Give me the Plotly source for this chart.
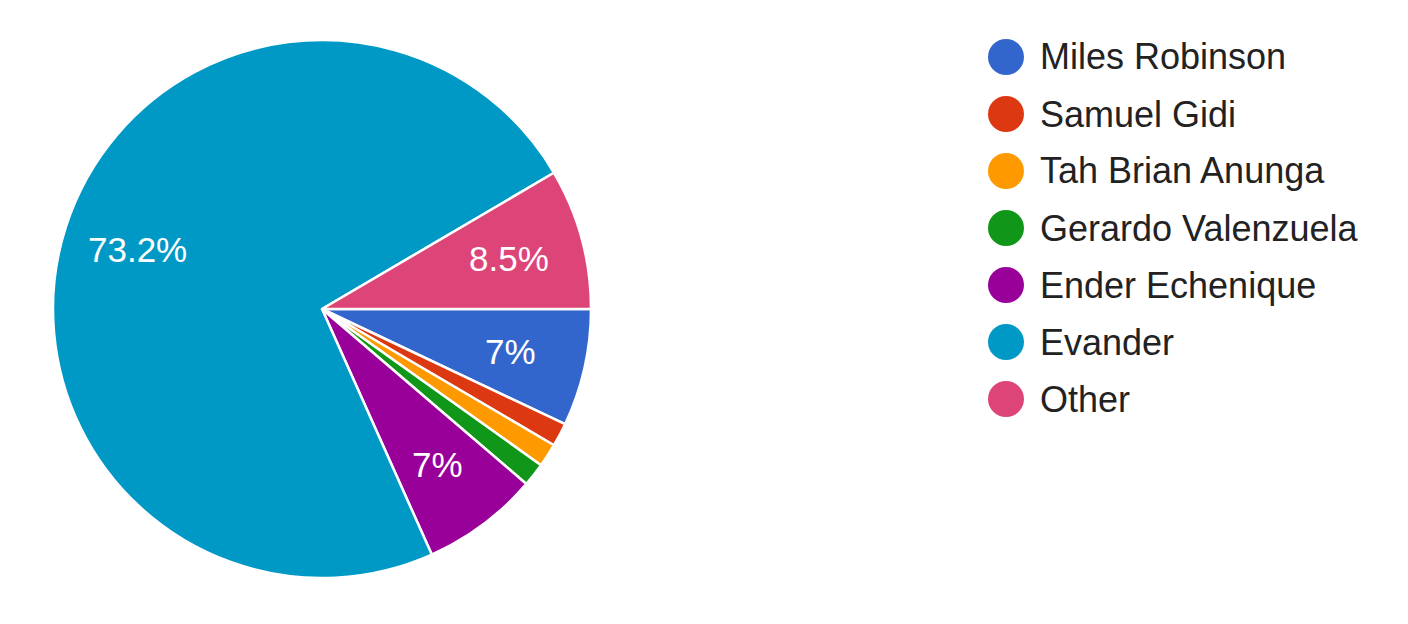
import math
import plotly.graph_objects as go

# responses per name
labels = ["Miles Robinson", "Samuel Gidi", "Tah Brian Anunga", "Gerardo Valenzuela",
          "Ender Echenique", "Evander", "Other"]
counts = [5, 1, 1, 1, 5, 52, 6]
colors = ["#3366cc", "#dc3912", "#ff9900", "#109618", "#990099", "#0099c6", "#dd4477"]

W, H = 1408, 624
total = sum(counts)
FONT = "Liberation Sans, Arial"

# pie geometry (px inside the figure)
cx, cy, R = 314, 301, 269


def pct_label(v):
    p = round(v / total * 100, 1)
    if p < 5:
        return ""
    s = f"{p:.1f}".rstrip("0").rstrip(".")
    return s + "%"


fig = go.Figure()
fig.add_trace(go.Pie(
    labels=labels,
    values=counts,
    textinfo="none",
    marker=dict(colors=colors, line=dict(color="white", width=2.5)),
    sort=False,
    direction="clockwise",
    rotation=90,
    showlegend=False,
    hoverinfo="label+value+percent",
    domain=dict(x=[(cx - R) / W, (cx + R) / W], y=[1 - (cy + R) / H, 1 - (cy - R) / H]),
))

annots = []
# percentage labels placed like google charts: mid-angle, ~0.72 of the radius
cum = 0
for v in counts:
    mid = (cum + v / 2) / total * 2 * math.pi  # clockwise from 3 o'clock
    cum += v
    txt = pct_label(v)
    if not txt:
        continue
    px = cx + 0.72 * R * math.cos(mid)
    py = cy + 0.72 * R * math.sin(mid)
    annots.append(dict(text=txt, xref="paper", yref="paper", x=px / W, y=1 - py / H,
                       xanchor="center", yanchor="middle", showarrow=False,
                       font=dict(size=35, color="white", family=FONT)))

# legend drawn by hand so the markers can be big circles like the original
shapes = []
for i, (lab, col) in enumerate(zip(labels, colors)):
    ly = 49 + i * 57
    shapes.append(dict(type="circle", xref="paper", yref="paper",
                       x0=980 / W, x1=1016 / W,
                       y0=1 - (ly + 18) / H, y1=1 - (ly - 18) / H,
                       fillcolor=col, line=dict(width=0)))
    annots.append(dict(text=lab, xref="paper", yref="paper",
                       x=1030 / W, y=1 - ly / H, xanchor="left", yanchor="middle",
                       showarrow=False,
                       font=dict(size=36, color="#222222", family=FONT)))

fig.update_layout(
    width=W, height=H,
    margin=dict(l=0, r=0, t=0, b=0),
    paper_bgcolor="white",
    plot_bgcolor="white",
    shapes=shapes,
    annotations=annots,
)

fig.write_html("out.html")
